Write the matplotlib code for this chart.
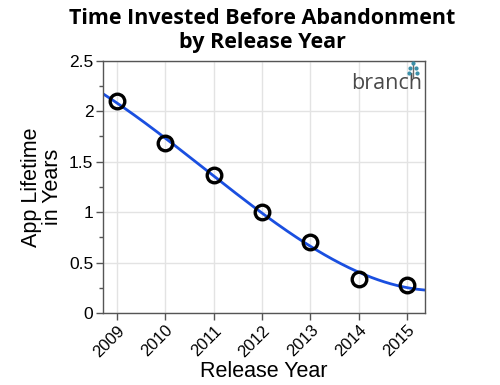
import numpy as np
import matplotlib
matplotlib.use("Agg")
import matplotlib.pyplot as plt
from matplotlib.ticker import MultipleLocator

years = [2009, 2010, 2011, 2012, 2013, 2014, 2015]
lifetime = [2.10, 1.69, 1.37, 1.005, 0.70, 0.34, 0.275]
year_labels = [str(y) for y in years]

fig = plt.figure(figsize=(5.0, 3.85), dpi=100)
ax = fig.add_axes([0.206, 0.187, 0.644, 0.655])

# smooth fit through the points
coef = np.polyfit(years, lifetime, 3)
xs = np.linspace(2008.71, 2015.37, 200)
ax.plot(xs, np.polyval(coef, xs), color="#1a4fe0", lw=2.0, zorder=2)
ax.plot(years, lifetime, "o", mfc="none", mec="black", mew=2.4, ms=10.5, zorder=3)

ax.set_xlim(2008.71, 2015.37)
ax.set_ylim(0, 2.5)
ax.set_xticks(years)
ax.set_xticklabels(year_labels, rotation=45, ha="right", rotation_mode="anchor",
                   fontsize=12, family="Liberation Sans")
ax.yaxis.set_major_locator(MultipleLocator(0.5))
ax.yaxis.set_minor_locator(MultipleLocator(0.25))
ax.set_yticks([0, 0.5, 1, 1.5, 2, 2.5])
ax.set_yticklabels(["0", "0.5", "1", "1.5", "2", "2.5"], fontsize=12.5, family="Liberation Sans")
ax.grid(True, which="major", color="#e3e3e3", lw=1.0, zorder=0)
for s in ax.spines.values():
    s.set_color("#555555")
    s.set_linewidth(1.0)
ax.tick_params(which="both", direction="out", color="#555555", length=5, width=1)
ax.tick_params(which="minor", length=3)
ax.tick_params(axis="x", pad=2)
ax.tick_params(axis="y", pad=2)

ax.set_xlabel("Release Year", fontsize=15.5, family="Liberation Sans", labelpad=1)
ax.set_ylabel("App Lifetime\nin Years", fontsize=15.5, family="Liberation Sans",
              linespacing=1.0, labelpad=4)

fig.suptitle("Time Invested Before Abandonment\nby Release Year", x=0.525, y=0.98,
             fontsize=15.5, fontweight="bold", family="Open Sans", linespacing=1.2)

# logo
ax.text(0.99, 0.912, "branch", transform=ax.transAxes, ha="right", va="center",
        fontsize=15.5, color="#4a4a4a", family="Open Sans")
ax.plot([0.962, 0.962], [0.935, 0.985], transform=ax.transAxes, color="#6a6a6a", lw=1, zorder=4)
ax.scatter([0.952, 0.972, 0.962, 0.950, 0.974], [0.972, 0.972, 0.99, 0.952, 0.952],
           transform=ax.transAxes, s=4, color="#3a8fa8", zorder=5, clip_on=False)

fig.savefig("out.png", dpi=100)
